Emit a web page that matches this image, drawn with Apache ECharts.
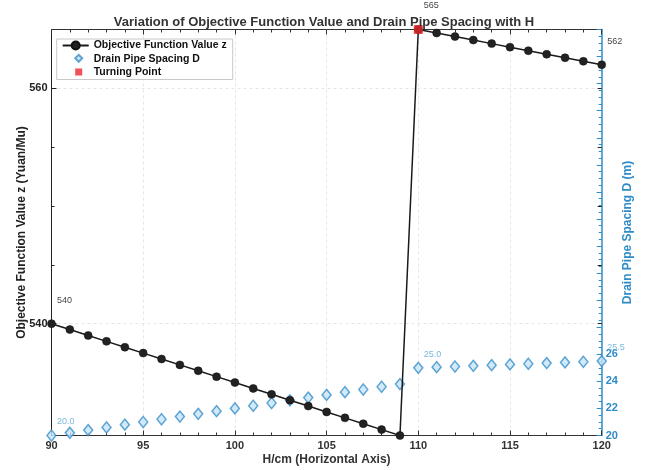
<!DOCTYPE html>
<html><head><meta charset="utf-8">
<script src="https://cdn.jsdelivr.net/npm/echarts@6/dist/echarts.min.js"></script>
<style>html,body{margin:0;padding:0;background:#fff}#c{width:648px;height:470px}</style>
</head><body><div id="c"></div>
<script>
// ---- data ----
const hValues = [90,91,92,93,94,95,96,97,98,99,100,101,102,103,104,105,106,107,108,109,110,111,112,113,114,115,116,117,118,119,120];
const zValues = [540,539.5,539,538.5,538,537.5,537,536.5,536,535.5,535,534.5,534,533.5,533,532.5,532,531.5,531,530.5,565,564.7,564.4,564.1,563.8,563.5,563.2,562.9,562.6,562.3,562];
const dValues = [20,20.2,20.4,20.6,20.8,21,21.2,21.4,21.6,21.8,22,22.2,22.4,22.6,22.8,23,23.2,23.4,23.6,23.8,25,25.05,25.1,25.15,25.2,25.25,25.3,25.35,25.4,25.45,25.5];
const turningH = [110];
const turningZ = [565];
const zLabelH = [90,110,120];
const zLabelText = ['540','565','562'];
const dLabelH = [90,110,120];
const dLabelText = ['20.0','25.0','25.5'];
const xTickLabels = [90,95,100,105,110,115,120];
const leftTickLabels = [540,560];
const leftMinorTicks = [545,550,555];
const rightTickLabels = [20,22,24,26];
const leftMin = 530.5, leftMax = 565;
const rightMin = 20, rightMax = 50;

const NAME_Z = 'Objective Function Value z', NAME_D = 'Drain Pipe Spacing D', NAME_T = 'Turning Point';
const BLUE = '#2f8cc9';
const FONT = 'Liberation Sans, Arial, sans-serif';

const zData = hValues.map((h,i)=>{
  const k = zLabelH.indexOf(h);
  const item = {value:[h, zValues[i]]};
  if (k >= 0) item.label = {show:true, position:'inside', align:'left', verticalAlign:'middle',
      offset:[5.5,-23.5], formatter: zLabelText[k], color:'#444', fontSize:9, fontFamily:FONT};
  return item;
});
const dData = hValues.map((h,i)=>{
  const k = dLabelH.indexOf(h);
  const item = {value:[h, dValues[i]]};
  if (k >= 0) item.label = {show:true, position:'inside', align:'left', verticalAlign:'middle',
      offset:[5.5,-13.5], formatter: dLabelText[k], color:'#5aa6d6', fontSize:9, fontFamily:FONT};
  return item;
});

const chart = echarts.init(document.getElementById('c'), null, {renderer:'canvas'});
chart.setOption({
  animation:false,
  textStyle:{fontFamily:FONT},
  title:{text:'Variation of Objective Function Value and Drain Pipe Spacing with H', left:'center', top:11,
    textStyle:{fontSize:13, fontWeight:'bold', color:'#333', fontFamily:FONT}},
  grid:{left:51.5, right:46.3, top:29.5, bottom:34.5, outerBoundsMode:'none'},
  legend:[{
    orient:'vertical', left:56.7, top:39, padding:[1,6,1.5,5], itemGap:2,
    itemWidth:26, itemHeight:10, backgroundColor:'#fff', borderColor:'#c8c8c8', borderWidth:1,
    textStyle:{fontSize:10.5, fontWeight:'bold', color:'#111', fontFamily:FONT},
    data:[NAME_Z, {name:NAME_D, itemStyle:{opacity:0}}, {name:NAME_T, itemStyle:{opacity:0}}],
    z:5
  },{
    orient:'vertical', left:74.2, top:53.8, padding:0, itemGap:5.7,
    itemWidth:7, itemHeight:7, symbolKeepAspect:false,
    textStyle:{fontSize:1, color:'rgba(0,0,0,0)'}, formatter:()=>'',
    data:[NAME_D, NAME_T], selectedMode:false, z:6
  }],
  xAxis:[{
    type:'value', min:90, max:120, interval:5, position:'bottom',
    name:'H/cm (Horizontal Axis)', nameLocation:'middle', nameGap:18, nameMoveOverlap:false,
    nameTextStyle:{fontSize:12, fontWeight:'bold', color:'#333', fontFamily:FONT},
    axisLine:{show:true, lineStyle:{color:'#333', width:1}},
    axisTick:{show:true, inside:true, length:5, lineStyle:{color:'#333'}},
    minorTick:{show:true, splitNumber:5, length:3, lineStyle:{color:'#333'}},
    axisLabel:{fontSize:11, fontWeight:'bold', color:'#333', margin:5,
      formatter:v=> xTickLabels.indexOf(v)>=0 ? String(v) : ''},
    splitLine:{show:true, lineStyle:{color:'#e6e6e6', type:[3,3], width:1}}
  },{
    type:'value', min:90, max:120, interval:5, position:'top',
    axisLine:{show:true, lineStyle:{color:'#333', width:1}},
    axisTick:{show:true, inside:true, length:5, lineStyle:{color:'#333'}},
    minorTick:{show:true, splitNumber:5, length:3, lineStyle:{color:'#333'}},
    axisLabel:{show:false}, splitLine:{show:false}
  }],
  yAxis:[{
    type:'value', min:leftMin, max:leftMax, position:'left',
    name:'Objective Function Value z (Yuan/Mu)', nameLocation:'middle', nameGap:24, nameMoveOverlap:false,
    nameTextStyle:{fontSize:12, fontWeight:'bold', color:'#222', fontFamily:FONT},
    axisLine:{show:true, lineStyle:{color:'#222', width:1}},
    axisTick:{show:true, inside:true, length:5, customValues:leftTickLabels, lineStyle:{color:'#222'}},
    axisLabel:{fontSize:11, fontWeight:'bold', color:'#222', margin:4, customValues:leftTickLabels},
    splitLine:{show:true, lineStyle:{color:'#e6e6e6', type:[3,3], width:1}}
  },{
    type:'value', min:rightMin, max:rightMax, interval:2, position:'right',
    name:'Drain Pipe Spacing D (m)', nameLocation:'middle', nameGap:20, nameMoveOverlap:false,
    nameTextStyle:{fontSize:12, fontWeight:'bold', color:BLUE, fontFamily:FONT},
    axisLine:{show:true, lineStyle:{color:BLUE, width:1.5}},
    axisTick:{show:true, inside:true, length:5, lineStyle:{color:BLUE}},
    minorTick:{show:true, splitNumber:4, length:3, lineStyle:{color:BLUE}},
    axisLabel:{fontSize:11, fontWeight:'bold', color:BLUE, margin:4,
      formatter:v=> rightTickLabels.indexOf(v)>=0 ? String(v) : ''},
    splitLine:{show:false}
  },{
    type:'value', min:leftMin, max:leftMax, position:'left',
    axisLine:{show:false},
    axisTick:{show:true, inside:true, length:3, customValues:leftMinorTicks, lineStyle:{color:'#222'}},
    axisLabel:{show:false}, splitLine:{show:false}
  },{
    type:'value', min:leftMin, max:leftMax, position:'right',
    axisLine:{show:false},
    axisTick:{show:true, inside:true, length:4, customValues:leftTickLabels.concat(leftMinorTicks), lineStyle:{color:'#222'}},
    axisLabel:{show:false}, splitLine:{show:false}
  }],
  series:[{
    name:NAME_Z, type:'line', xAxisIndex:0, yAxisIndex:0,
    data:zData, symbol:'circle', symbolSize:8, showAllSymbol:true,
    lineStyle:{color:'#1a1a1a', width:1.5},
    itemStyle:{color:'#222', borderColor:'#111', borderWidth:0.5},
    z:3
  },{
    name:NAME_D, type:'scatter', xAxisIndex:0, yAxisIndex:1,
    data:dData, symbol:'diamond', symbolSize:[9,11],
    itemStyle:{color:'#c6e3f7', borderColor:'#3a90c8', borderWidth:1.5},
    z:2
  },{
    name:NAME_T, type:'scatter', xAxisIndex:0, yAxisIndex:0,
    data:turningH.map((h,i)=>[h, turningZ[i]]), symbol:'rect', symbolSize:9,
    itemStyle:{color:'#e8282a'}, z:4
  }]
});
</script></body></html>
